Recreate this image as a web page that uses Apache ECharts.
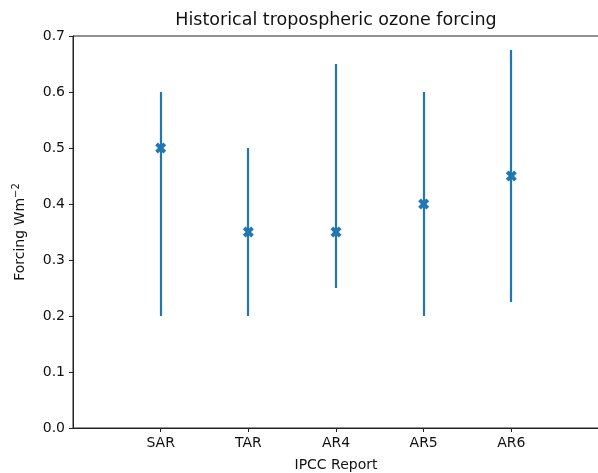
<!DOCTYPE html>
<html>
<head>
<meta charset="utf-8">
<script src="https://cdn.jsdelivr.net/npm/echarts@6/dist/echarts.min.js"></script>
<style>
  html, body { margin: 0; padding: 0; background: #fff; overflow: hidden; }
  #chart { width: 598px; height: 473px; }
</style>
</head>
<body>
<div id="chart"></div>
<script>
// IPCC assessment reports and their tropospheric ozone forcing estimates (W m-2)
const categories = ['SAR', 'TAR', 'AR4', 'AR5', 'AR6'];
const central = [0.5, 0.35, 0.35, 0.4, 0.45];
const lower = [0.2, 0.2, 0.25, 0.2, 0.225];
const upper = [0.6, 0.5, 0.65, 0.6, 0.675];
const yTicks = [0, 0.1, 0.2, 0.3, 0.4, 0.5, 0.6, 0.7];

const FONT = 'DejaVu Sans';
const BLUE = '#1f77b4';
const INK = '#111';
// filled "X" marker
const X_MARKER = 'path://M0.25,0 L0.5,0.25 L0.75,0 L1,0.25 L0.75,0.5 L1,0.75 L0.75,1 L0.5,0.75 L0.25,1 L0,0.75 L0.25,0.5 L0,0.25 Z';

const positions = categories.map((_, i) => i + 1);
const barData = positions.map((x, i) => [x, lower[i], upper[i]]);
const pointData = positions.map((x, i) => [x, central[i]]);

const chart = echarts.init(document.getElementById('chart'), null, { renderer: 'canvas' });

chart.setOption({
  animation: false,
  backgroundColor: '#fff',
  textStyle: { fontFamily: FONT },
  grid: {
    left: 73, top: 36, width: 526, height: 392,
    outerBoundsMode: 'none',
    containLabel: false,
    show: true, borderColor: '#222', borderWidth: 1, backgroundColor: 'transparent'
  },
  xAxis: {
    type: 'value',
    min: 0, max: categories.length + 1, interval: 1,
    splitLine: { show: false },
    axisLine: { lineStyle: { color: '#222', width: 1 } },
    axisTick: {
      inside: false, length: 4, lineStyle: { color: '#222', width: 1 },
      customValues: positions
    },
    axisLabel: {
      customValues: positions,
      formatter: v => categories[Math.round(v) - 1] || '',
      color: INK, fontFamily: FONT, fontSize: 14, margin: 8
    },
    name: 'IPCC Report',
    nameLocation: 'middle',
    nameGap: 30,
    nameTextStyle: { color: INK, fontFamily: FONT, fontSize: 14 }
  },
  yAxis: {
    type: 'value',
    min: 0, max: 0.7, interval: 0.1,
    splitLine: { show: false },
    axisLine: { show: true, lineStyle: { color: '#222', width: 1 } },
    axisTick: { show: true, inside: false, length: 4, lineStyle: { color: '#222', width: 1 } },
    axisLabel: {
      customValues: yTicks,
      formatter: v => v.toFixed(1),
      color: INK, fontFamily: FONT, fontSize: 14, margin: 8
    },
    name: 'Forcing Wm{sup|\u22122}',
    nameLocation: 'middle',
    nameGap: 44,
    nameRotate: 90,
    nameTextStyle: {
      color: INK, fontFamily: FONT, fontSize: 14,
      rich: { sup: { fontSize: 10, verticalAlign: 'top', padding: [0, 0, 8, 0], fontFamily: FONT, color: INK } }
    }
  },
  graphic: [{
    type: 'text',
    x: 336, y: 20,
    style: {
      text: 'Historical tropospheric ozone forcing',
      textAlign: 'center', textVerticalAlign: 'middle',
      font: '17.5px "DejaVu Sans"', fill: INK
    }
  }],
  series: [
    {
      type: 'custom',
      data: barData,
      encode: { x: 0, y: [1, 2] },
      renderItem: (params, api) => {
        const x = api.value(0);
        const p1 = api.coord([x, api.value(1)]);
        const p2 = api.coord([x, api.value(2)]);
        return {
          type: 'line',
          shape: { x1: Math.round(p1[0]), y1: p1[1], x2: Math.round(p2[0]), y2: p2[1] },
          style: { stroke: BLUE, lineWidth: 2.2 }
        };
      },
      z: 2
    },
    {
      type: 'scatter',
      data: pointData,
      symbol: X_MARKER,
      symbolSize: 11,
      itemStyle: { color: BLUE, opacity: 1 },
      z: 3
    }
  ]
});
</script>
</body>
</html>
